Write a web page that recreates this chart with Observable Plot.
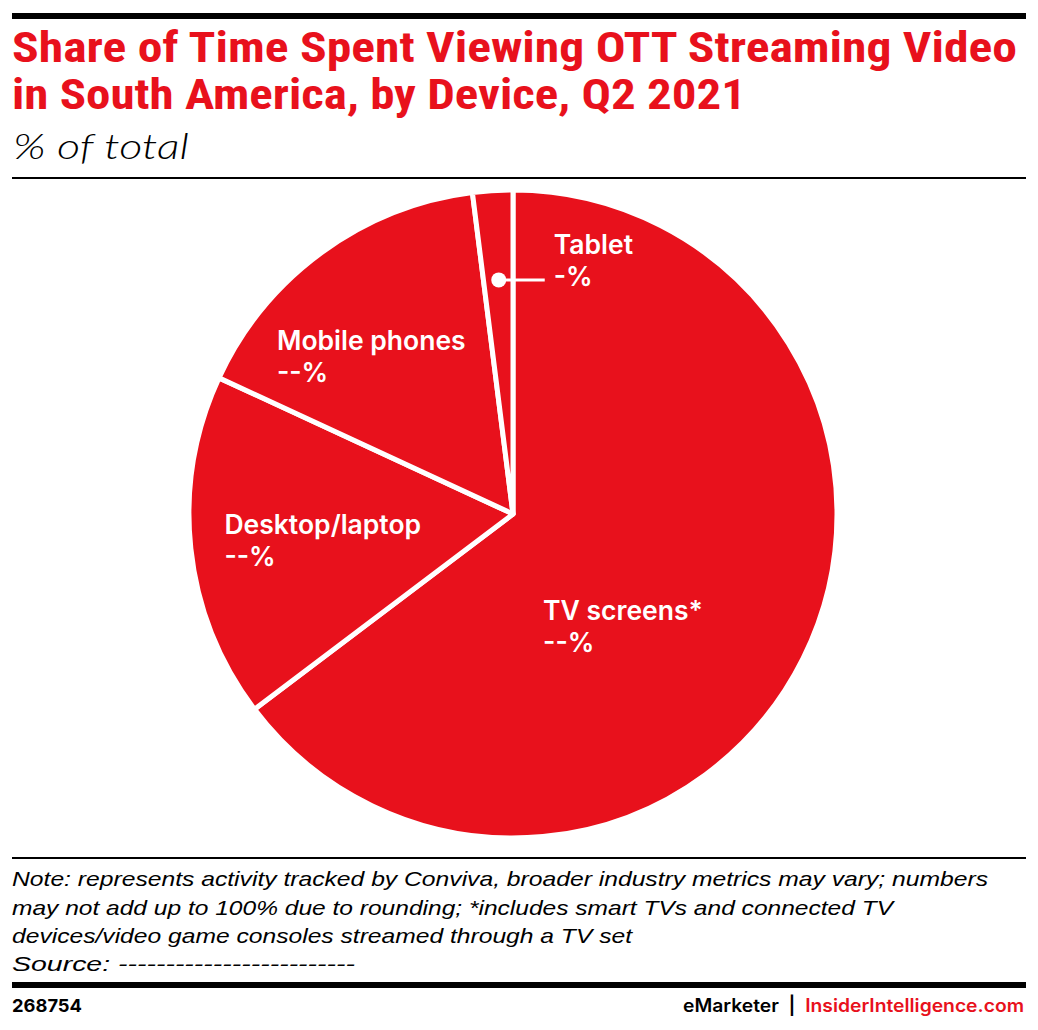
<!DOCTYPE html>
<html><head><meta charset="utf-8">
<script src="https://cdn.jsdelivr.net/npm/d3@7"></script>
<script src="https://cdn.jsdelivr.net/npm/@observablehq/plot@0.6"></script>
<style>
body{margin:0;background:#fff;width:1038px;height:1030px;position:relative;overflow:hidden;font-family:Inter,"Noto Sans",sans-serif}
.abs{position:absolute;white-space:nowrap;line-height:1;transform-origin:0 0}
.rule{position:absolute;left:12px;width:1014px;background:#000}
#chart{position:absolute;left:0;top:180px}
.title{font-family:"Liberation Sans Narrow","Roboto Condensed","Liberation Sans",Arial,sans-serif;font-weight:bold;font-size:42px;color:#e8111c}
.note{font-family:"Liberation Sans Narrow","Liberation Sans",Arial,sans-serif;font-style:italic;font-size:21px;color:#000}
</style></head><body>
<div class="rule" style="top:13px;height:6px"></div>
<div class="abs title" data-w="1005" data-b="62" style="left:12px">Share of Time Spent Viewing OTT Streaming Video</div>
<div class="abs title" data-w="734" data-b="109" style="left:12px">in South America, by Device, Q2 2021</div>
<div class="abs" data-w="176" data-b="159" style="left:13px;font-family:Lato,'Open Sans',sans-serif;font-style:italic;font-weight:300;font-size:36px">% of total</div>
<div class="rule" style="top:177px;height:2px"></div>
<div id="chart"></div>
<div class="rule" style="top:857px;height:2px"></div>
<div class="abs note" data-w="976" data-b="886" style="left:12px">Note: represents activity tracked by Conviva, broader industry metrics may vary; numbers</div>
<div class="abs note" data-w="881" data-b="914.5" style="left:12px">may not add up to 100% due to rounding; *includes smart TVs and connected TV</div>
<div class="abs note" data-w="620" data-b="943" style="left:12px">devices/video game consoles streamed through a TV set</div>
<div class="abs note" data-w="343" data-b="971" style="left:12px">Source: -------------------------</div>
<div class="rule" style="top:982px;height:6px"></div>
<div class="abs" data-w="70" data-b="1012" style="left:12px;font-family:Inter,sans-serif;font-weight:700;font-size:18px">268754</div>
<div class="abs" id="brand" data-w="341" data-b="1012" style="left:683px;font-family:Inter,sans-serif;font-weight:600;font-size:18px"><span style="color:#000">eMarketer</span><span style="color:#000">&nbsp;&nbsp;|&nbsp;&nbsp;</span><span style="color:#e8111c">InsiderIntelligence.com</span></div>
<script>
// ---- data ----
const categories = ["TV screens*", "Desktop/laptop", "Mobile phones", "Tablet"];
const shares = [64.7, 17.2, 16.1, 2.0];
const valueLabels = ["--%", "--%", "--%", "-%"];

// ---- layout / style ----
const RED = "#e8111c";
const W = 1038, H = 676, CX = 513, CY = 334, R = 324;
const FS = 26.5, LH = 32 / 26.5;
const labelShift = {
  "TV screens*": {rf: 0.55, dx: -129, dy: 32},
  "Desktop/laptop": {rf: 0.55, dx: -113, dy: 6},
  "Mobile phones": {rf: 0.55, dx: -132, dy: -16}
};

const rows = categories.map((c, i) => ({name: c, value: shares[i], label: valueLabels[i]}));
const arcs = d3.pie().sort(null).value(d => d.value)(rows);
const mid = a => (a.startAngle + a.endAngle) / 2;
const Rv = 322;

const inner = arcs.filter(a => labelShift[a.data.name]).map(a => {
  const s = labelShift[a.data.name], m = mid(a);
  return {x: CX + s.rf * Rv * Math.sin(m) + s.dx, y: CY - s.rf * Rv * Math.cos(m) + s.dy,
          text: a.data.name + "\n" + a.data.label};
});
const tab = arcs.find(a => a.data.name === "Tablet");
const tm = mid(tab);
const dotPt = {x: CX + 0.73 * Rv * Math.sin(tm), y: CY - 0.73 * Rv * Math.cos(tm)};
const tabLabel = {x: dotPt.x + 55, y: dotPt.y - 20, text: tab.data.name + "\n" + tab.data.label};

const pieMark = (index, scales) => {
  const g = d3.create("svg:g")
    .attr("transform", `translate(${scales.x(CX)},${scales.y(CY)})`);
  g.selectAll("path").data(arcs).join("path")
    .attr("d", d3.arc().innerRadius(0).outerRadius(R))
    .attr("fill", RED).attr("stroke", "#fff").attr("stroke-width", 5)
    .attr("stroke-linejoin", "round");
  return g.node();
};

const chart = Plot.plot({
  width: W, height: H, margin: 0,
  x: {type: "linear", domain: [0, W], range: [0, W], axis: null},
  y: {type: "linear", domain: [0, H], range: [0, H], axis: null},
  style: {fontFamily: "Inter, 'Noto Sans', sans-serif", background: "transparent"},
  marks: [
    pieMark,
    Plot.text(inner, {x: "x", y: "y", text: "text", textAnchor: "start", lineAnchor: "middle",
      lineHeight: LH, fill: "white", fontSize: FS, fontWeight: 600}),
    Plot.link([dotPt], {x1: "x", y1: "y", x2: d => d.x + 46, y2: "y", stroke: "white", strokeWidth: 3}),
    Plot.dot([dotPt], {x: "x", y: "y", r: 7.5, fill: "white"}),
    Plot.text([tabLabel], {x: "x", y: "y", text: "text", textAnchor: "start", lineAnchor: "middle",
      lineHeight: LH, fill: "white", fontSize: FS, fontWeight: 600})
  ]
});
document.getElementById("chart").appendChild(chart);

// fit header/footer text widths and baselines
document.querySelectorAll(".abs[data-w]").forEach(el => {
  const m = document.createElement("span");
  m.style.cssText = "display:inline-block;width:0;height:0;vertical-align:baseline";
  el.appendChild(m);
  const off = m.offsetTop;
  el.style.top = (parseFloat(el.dataset.b) - off) + "px";
  const w = el.getBoundingClientRect().width;
  el.style.transform = `scaleX(${parseFloat(el.dataset.w) / w})`;
});
</script>
</body></html>
